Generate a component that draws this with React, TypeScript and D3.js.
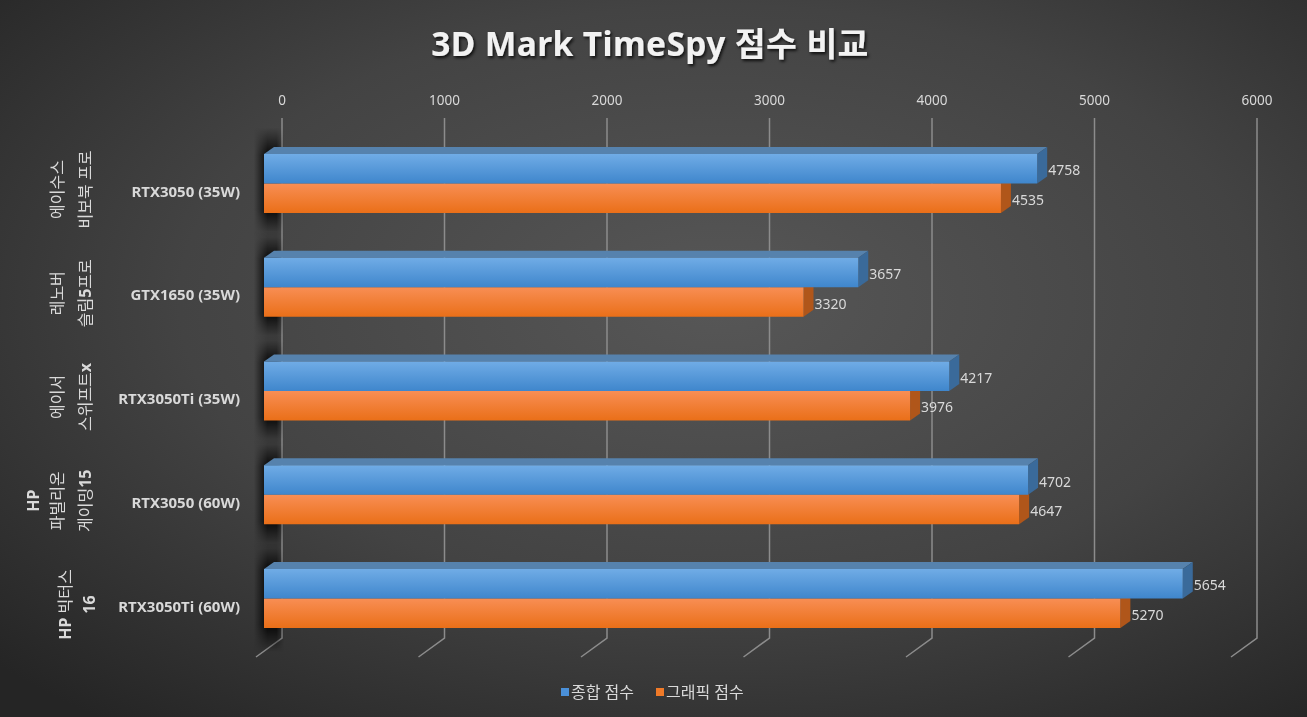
import React from "react";
import * as d3 from "d3";

const groupLines: string[][] = [
  ["에이수스", "비보북 프로"],
  ["레노버", "슬림5프로"],
  ["에이서", "스위프트x"],
  ["HP", "파빌리온", "게이밍15"],
  ["HP 빅터스", "16"],
];
const gpus = ["RTX3050 (35W)", "GTX1650 (35W)", "RTX3050Ti (35W)", "RTX3050 (60W)", "RTX3050Ti (60W)"];
const seriesNames = ["종합 점수", "그래픽 점수"];
const totalScore = [4758, 3657, 4217, 4702, 5654];
const graphicScore = [4535, 3320, 3976, 4647, 5270];
const ticks = [0, 1000, 2000, 3000, 4000, 5000, 6000];
const title = "3D Mark TimeSpy 점수 비교";

const W = 1307;
const H = 717;
const FONT = "'Noto Sans', 'Noto Sans CJK KR', sans-serif";

const isLatin = (s: string) => /^[A-Za-z0-9 ]+$/.test(s);
function runs(s: string): { t: string; latin: boolean }[] {
  const out: { t: string; latin: boolean }[] = [];
  for (const ch of s) {
    const lat = /[A-Za-z0-9]/.test(ch) ? true : ch === " " ? null : false;
    const last = out[out.length - 1];
    if (last && (lat === null || last.latin === lat)) last.t += ch;
    else out.push({ t: ch, latin: lat === null ? false : lat });
  }
  return out;
}

export default function App() {
  const x = d3.scaleLinear().domain([0, 6000]).range([264, 1239]);
  const backDx = 18;
  const depthDx = 10;
  const depthDy = -7;
  const gridTop = 118;
  const gridBottom = 638;
  const floorDx = -26;
  const floorDy = 19;

  const step = 103.75;
  const pInner = 1 - 59 / step;
  const r0 = 154 - (step * pInner) / 2;
  const y = d3
    .scaleBand<string>()
    .domain(gpus)
    .range([r0, r0 + step * gpus.length])
    .paddingInner(pInner)
    .paddingOuter(pInner / 2);
  const ys = d3.scaleBand<string>().domain(seriesNames).range([0, y.bandwidth()]);

  const series = [
    { name: seriesNames[0], values: totalScore, front: "url(#gBlue)", top: "#5682ad", side: "#3a6a9a", legend: "#4a90d9" },
    { name: seriesNames[1], values: graphicScore, front: "url(#gOrange)", top: "#c46a2a", side: "#b0561a", legend: "#f07a28" },
  ];

  const txt = "#d9d9d9";

  return (
    <svg width={W} height={H} style={{ position: "fixed", left: 0, top: 0 }} fontFamily={FONT}>
      <defs>
        <radialGradient id="bg" cx="55%" cy="42%" r="75%">
          <stop offset="0" stopColor="#575757" />
          <stop offset="0.55" stopColor="#434343" />
          <stop offset="1" stopColor="#252525" />
        </radialGradient>
        <linearGradient id="gBlue" x1="0" y1="0" x2="0" y2="1">
          <stop offset="0" stopColor="#70ace6" />
          <stop offset="1" stopColor="#3f86cc" />
        </linearGradient>
        <linearGradient id="gOrange" x1="0" y1="0" x2="0" y2="1">
          <stop offset="0" stopColor="#f88e54" />
          <stop offset="1" stopColor="#ea6f18" />
        </linearGradient>
        <linearGradient id="shH" x1="0" y1="0" x2="1" y2="0">
          <stop offset="0" stopColor="#000" stopOpacity="0" />
          <stop offset="0.45" stopColor="#000" stopOpacity="0.85" />
          <stop offset="0.75" stopColor="#000" stopOpacity="0.85" />
          <stop offset="1" stopColor="#000" stopOpacity="0" />
        </linearGradient>
        <linearGradient id="shV" x1="0" y1="0" x2="0" y2="1">
          <stop offset="0" stopColor="#fff" stopOpacity="0" />
          <stop offset="0.25" stopColor="#fff" stopOpacity="1" />
          <stop offset="0.75" stopColor="#fff" stopOpacity="1" />
          <stop offset="1" stopColor="#fff" stopOpacity="0" />
        </linearGradient>
        <mask id="shMask" maskContentUnits="objectBoundingBox">
          <rect x={0} y={0} width={1} height={1} fill="url(#shV)" />
        </mask>
        <filter id="tshadow" x="-10%" y="-30%" width="120%" height="160%">
          <feDropShadow dx="1.5" dy="2" stdDeviation="1.5" floodColor="#000" floodOpacity="0.8" />
        </filter>
      </defs>
      <rect x={0} y={0} width={W} height={H} fill="url(#bg)" />

      <text
        x={650}
        y={56}
        textAnchor="middle"
        fontSize={33.5}
        letterSpacing={0.4}
        fontWeight="bold"
        fill="#f2f2f2"
        filter="url(#tshadow)"
      >
        {title}
      </text>

      {/* gridlines on back wall and floor */}
      {ticks.map((t) => {
        const gx = x(t) + backDx;
        return (
          <g key={t}>
            <path
              d={`M${gx},${gridTop}L${gx},${gridBottom}L${gx + floorDx},${gridBottom + floorDy}`}
              fill="none"
              stroke="#8c8c8c"
              strokeWidth={1.5}
            />
            <text x={gx} y={100} textAnchor="middle" dominantBaseline="central" fontSize={13.5} fill={txt}>
              {t}
            </text>
          </g>
        );
      })}

      {/* shadows */}
      {gpus.map((g) => {
        const top = y(g)!;
        return (
          <rect
            key={"sh" + g}
            x={x(0) - 10}
            y={top - 26}
            width={30}
            height={y.bandwidth() + 50}
            fill="url(#shH)"
            mask="url(#shMask)"
          />
        );
      })}

      {/* bars */}
      {gpus.map((g, i) => {
        const top = y(g)!;
        return (
          <g key={"b" + g}>
            {[series[1], series[0]].map((s) => {
              const v = s.values[i];
              const by = top + ys(s.name)!;
              const bh = ys.bandwidth();
              const x0 = x(0);
              const x1 = x(v);
              return (
                <g key={s.name}>
                  <path
                    d={`M${x0},${by}L${x0 + depthDx},${by + depthDy}L${x1 + depthDx},${by + depthDy}L${x1},${by}Z`}
                    fill={s.top}
                  />
                  <path
                    d={`M${x1},${by}L${x1 + depthDx},${by + depthDy}L${x1 + depthDx},${by + bh + depthDy}L${x1},${by + bh}Z`}
                    fill={s.side}
                  />
                  <rect x={x0} y={by} width={x1 - x0} height={bh} fill={s.front} />
                  <text
                    x={x1 + depthDx + 1}
                    y={by + bh / 2 + 1}
                    dominantBaseline="central"
                    fontSize={14}
                    fill={txt}
                  >
                    {v}
                  </text>
                </g>
              );
            })}
          </g>
        );
      })}

      {/* category labels */}
      {gpus.map((g) => (
        <text
          key={"c" + g}
          x={240}
          y={y(g)! + y.bandwidth() / 2 + 7}
          textAnchor="end"
          dominantBaseline="central"
          fontSize={15}
          fontWeight="bold"
          fill={txt}
        >
          {g}
        </text>
      ))}

      {/* group labels (rotated) */}
      {gpus.map((g, i) => {
        const cy = y(g)! + y.bandwidth() / 2 + 6;
        const lines = groupLines[i];
        const hs = lines.map((ln) => (isLatin(ln) ? 20 : 28));
        let edge = 99;
        const centers: number[] = new Array(lines.length);
        for (let j = lines.length - 1; j >= 0; j--) {
          centers[j] = edge - hs[j] / 2;
          edge -= hs[j];
        }
        return (
          <g key={"gl" + g}>
            {lines.map((ln, j) => (
              <text
                key={j}
                transform={`translate(${centers[j]},${cy}) rotate(-90)`}
                textAnchor="middle"
                dominantBaseline="central"
                fontSize={16}
                fill={txt}
              >
                {runs(ln).map((r, k) => (
                  <tspan key={k} fontWeight={r.latin ? "bold" : "normal"}>
                    {r.t}
                  </tspan>
                ))}
              </text>
            ))}
          </g>
        );
      })}

      {/* legend */}
      {(() => {
        const xs = [561, 656];
        return series.map((s, k) => (
          <g key={"lg" + s.name}>
            <rect x={xs[k]} y={688} width={8} height={8} fill={s.legend} />
            <text x={xs[k] + 10} y={692} dominantBaseline="central" fontSize={16} fill={txt}>
              {s.name}
            </text>
          </g>
        ));
      })()}
    </svg>
  );
}
